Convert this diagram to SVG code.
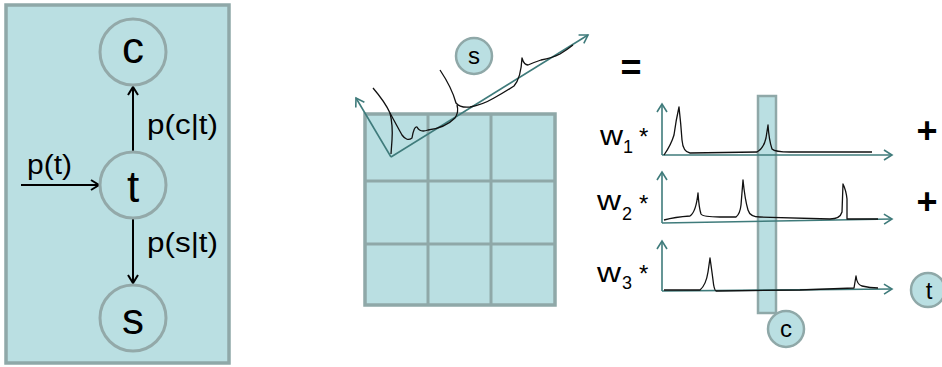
<svg xmlns="http://www.w3.org/2000/svg" width="942" height="367" viewBox="0 0 942 367">
<defs>
<style>
.panel{fill:#badfe2;stroke:#8fa8a8;stroke-width:3.5}
.node{fill:#badfe2;stroke:#93a9a9;stroke-width:3}
.snode{fill:#badfe2;stroke:#8fa8a8;stroke-width:2.5}
.big{font-family:"Liberation Sans",Arial,sans-serif;font-size:44px;fill:#000;text-anchor:middle}
.lbl{font-family:"Liberation Sans",Arial,sans-serif;font-size:27px;fill:#000}
.sm{font-family:"Liberation Sans",Arial,sans-serif;font-size:24px;fill:#000;text-anchor:middle}
.w{font-family:"Liberation Sans",Arial,sans-serif;font-size:27px;fill:#000}
.star{font-family:"Liberation Sans",Arial,sans-serif;font-size:24px;fill:#000}
.sub{font-family:"Liberation Sans",Arial,sans-serif;font-size:18px;fill:#000}
.op{font-family:"Liberation Sans",Arial,sans-serif;font-size:36px;font-weight:bold;fill:#000;text-anchor:middle}
.blk{stroke:#000;stroke-width:2;fill:none}
.axis{stroke:#3f7b7b;stroke-width:1.6;fill:none}
.spec{stroke:#111;stroke-width:1.3;fill:none;stroke-linejoin:round}
</style>
<marker id="ab" markerUnits="userSpaceOnUse" markerWidth="14" markerHeight="14" refX="9" refY="6" orient="auto" viewBox="0 0 14 12">
<path d="M1,1 L9,6 L1,11" fill="none" stroke="#000" stroke-width="2"/>
</marker>
<marker id="at" markerUnits="userSpaceOnUse" markerWidth="14" markerHeight="14" refX="9" refY="6" orient="auto" viewBox="0 0 14 12">
<path d="M1,1 L9,6 L1,11" fill="none" stroke="#3f7b7b" stroke-width="1.6"/>
</marker>
</defs>

<g id="left-panel">
<rect class="panel" x="6" y="5" width="223" height="358"/>
</g>

<g id="connectors">
<line class="blk" x1="133" y1="152" x2="133" y2="87" marker-end="url(#ab)"/>
<line class="blk" x1="133" y1="218" x2="133" y2="283" marker-end="url(#ab)"/>
<line class="blk" x1="21" y1="185" x2="99" y2="185" marker-end="url(#ab)"/>
<text class="lbl" x="147" y="134" textLength="71" lengthAdjust="spacingAndGlyphs">p(c|t)</text>
<text class="lbl" x="147" y="252" textLength="71" lengthAdjust="spacingAndGlyphs">p(s|t)</text>
<text class="lbl" x="27" y="174" textLength="45" lengthAdjust="spacingAndGlyphs">p(t)</text>
</g>

<g id="node-c">
<circle class="node" cx="133" cy="52" r="33"/>
<text class="big" x="133" y="63">c</text>
</g>
<g id="node-t">
<circle class="node" cx="133" cy="185" r="33"/>
<text class="big" x="133" y="202">t</text>
</g>
<g id="node-s">
<circle class="node" cx="133" cy="318" r="33"/>
<text class="big" x="133" y="334">s</text>
</g>

<g id="grid">
<rect class="panel" x="365" y="114" width="190" height="191" stroke-width="3"/>
<line x1="428" y1="114" x2="428" y2="305" stroke="#8fa8a8" stroke-width="3"/>
<line x1="491" y1="114" x2="491" y2="305" stroke="#8fa8a8" stroke-width="3"/>
<line x1="365" y1="181" x2="555" y2="181" stroke="#8fa8a8" stroke-width="3"/>
<line x1="365" y1="244" x2="555" y2="244" stroke="#8fa8a8" stroke-width="3"/>
</g>

<g id="spectrum-s">
<polyline class="axis" points="391,157 588,35" marker-end="url(#at)"/>
<line class="axis" x1="391" y1="157" x2="356" y2="98" marker-end="url(#at)"/>
<path class="spec" d="M373,88 Q385,102 390,113 Q393,125 392,140 L391,154"/>
<path class="spec" d="M390,113 Q397,126 402,135 Q407,142 412,138 Q414,126 417,127 Q420,133 428,130 Q445,128 455,118 Q459,112 457,105"/>
<path class="spec" d="M440,70 Q452,88 456,103 Q460,108 470,107 Q482,105 494,98 Q505,92 514,86 Q521,78 522,58 Q524,65 528,65 Q535,62 541,60 Q552,58 560,54 Q568,49 573,45"/>
</g>
<g id="node-s-small">
<circle class="snode" cx="474" cy="56" r="18"/>
<text class="sm" x="474" y="64" font-size="22">s</text>
</g>

<text class="op" x="631" y="80" font-weight="normal" font-size="38">=</text>

<g id="bar-c">
<rect x="758" y="96" width="18" height="217" fill="#badfe2" stroke="#8fa8a8" stroke-width="2.5"/>
</g>

<g id="row1">
<line class="axis" x1="662" y1="155" x2="662" y2="104" marker-end="url(#at)"/>
<line class="axis" x1="662" y1="155" x2="892" y2="155" marker-end="url(#at)"/>
<path class="spec" d="M664,155 Q671,145 674,135 Q676,120 679,107 Q681,125 682,140 Q683,152 690,153 L757,152 Q764,148 766,138 L768,125 Q769,140 772,149 Q775,152 790,152 L872,152"/>
<text class="w" x="600" y="145" textLength="23" lengthAdjust="spacingAndGlyphs">w</text>
<text class="sub" x="623" y="153">1</text>
<text class="star" x="639" y="145">*</text>
</g>
<g id="row2">
<line class="axis" x1="662" y1="223" x2="662" y2="172" marker-end="url(#at)"/>
<line class="axis" x1="662" y1="223" x2="892" y2="219" marker-end="url(#at)"/>
<path class="spec" d="M664,220 Q675,217 690,216 Q696,212 698,193 Q699,208 701,214 Q703,217 720,217 L736,217 Q740,214 741,205 L743,180 Q745,200 748,210 Q750,217 760,217 L830,219 Q840,219 842,212 L843,184 Q846,190 847,199 L847,219 L878,219"/>
<text class="w" x="597" y="210" textLength="24" lengthAdjust="spacingAndGlyphs">w</text>
<text class="sub" x="622" y="220">2</text>
<text class="star" x="639" y="212">*</text>
</g>
<g id="row3">
<line class="axis" x1="662" y1="291" x2="662" y2="241" marker-end="url(#at)"/>
<line class="axis" x1="662" y1="291" x2="892" y2="289" marker-end="url(#at)"/>
<path class="spec" d="M664,290 L700,290 Q706,285 708,272 L710,258 Q712,272 713,280 Q714,290 716,291 L800,290 L854,288 Q855,282 856,276 Q857,285 862,286 Q870,288 878,288"/>
<text class="w" x="597" y="282" textLength="24" lengthAdjust="spacingAndGlyphs">w</text>
<text class="sub" x="622" y="289">3</text>
<text class="star" x="639" y="282">*</text>
</g>

<text class="op" x="927" y="143">+</text>
<text class="op" x="927" y="214">+</text>

<g id="node-t-small">
<circle class="snode" cx="928" cy="290" r="17"/>
<text class="sm" x="929" y="299">t</text>
</g>
<g id="node-c-small">
<circle class="snode" cx="786" cy="329" r="18"/>
<text class="sm" x="786" y="337">c</text>
</g>
</svg>
